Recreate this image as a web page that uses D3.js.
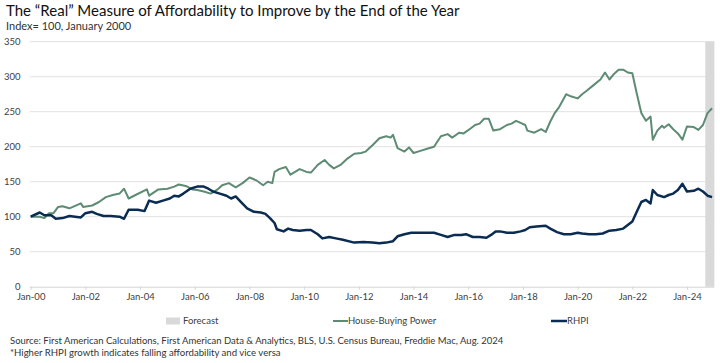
<!DOCTYPE html>
<html>
<head>
<meta charset="utf-8">
<script src="https://cdn.jsdelivr.net/npm/d3@7"></script>
<style>
  body { margin: 0; background: #fff; }
  text { font-family: Lato, "Open Sans", sans-serif; }
</style>
</head>
<body>
<div id="chart-area"></div>
<script>
// House-Buying Power vs RHPI, index Jan 2000 = 100

var hbpDates = ["2000-01","2000-05","2000-07","2000-09","2000-11","2001-01","2001-03","2001-06","2001-11","2001-12",
  "2002-04","2002-07","2002-10","2003-01","2003-04","2003-06","2003-08","2003-11","2004-04","2004-05",
  "2004-09","2005-01","2005-04","2005-06","2005-09","2005-12","2006-02","2006-05","2006-08","2006-11",
  "2007-01","2007-04","2007-07","2007-10","2008-01","2008-04","2008-07","2008-09","2008-11","2008-12",
  "2009-02","2009-05","2009-07","2009-09","2009-11","2010-02","2010-04","2010-07","2010-10","2010-12",
  "2011-02","2011-05","2011-08","2011-11","2012-02","2012-04","2012-07","2012-10","2013-01","2013-03",
  "2013-04","2013-06","2013-09","2013-11","2014-01","2014-04","2014-07","2014-10","2015-01","2015-04",
  "2015-06","2015-09","2015-11","2016-02","2016-04","2016-06","2016-08","2016-10","2016-12","2017-03",
  "2017-06","2017-08","2017-10","2017-12","2018-02","2018-03","2018-06","2018-09","2018-11","2019-01",
  "2019-03","2019-05","2019-08","2019-10","2020-01","2020-03","2020-05","2020-08","2020-11","2021-01",
  "2021-03","2021-05","2021-07","2021-09","2021-11","2022-01","2022-03","2022-05","2022-07","2022-09",
  "2022-10","2022-12","2023-02","2023-03","2023-05","2023-07","2023-09","2023-11","2024-01","2024-04",
  "2024-06","2024-08","2024-10","2024-12"];
var hbpValues = [100,100,98,105,105,114,115,112,119,114,
  116,121,128,131,133,140,126,131,139,130,
  139,140,143,146,144,139,138,136,133,139,
  145,148,142,148,156,152,145,150,148,164,
  168,171,160,164,168,164,163,174,181,174,
  169,174,183,190,191,193,202,212,215,213,
  217,198,193,199,191,194,197,200,215,218,
  213,220,219,226,231,233,240,240,223,225,
  231,233,237,234,231,223,220,225,221,236,
  248,257,275,272,269,275,280,288,296,306,
  296,304,310,310,306,305,276,248,237,243,
  210,223,230,227,232,225,219,210,229,228,
  224,231,248,255];

var rhpiDates = ["2000-01","2000-05","2000-07","2000-10","2000-12","2001-03","2001-06","2001-11","2002-01","2002-04",
  "2002-06","2002-09","2002-12","2003-04","2003-06","2003-08","2003-12","2004-03","2004-05","2004-08",
  "2004-11","2005-02","2005-04","2005-06","2005-08","2005-11","2006-02","2006-05","2006-07","2006-09",
  "2006-12","2007-03","2007-05","2007-07","2007-09","2007-12","2008-03","2008-06","2008-08","2008-10",
  "2008-12","2009-01","2009-04","2009-06","2009-08","2009-11","2010-02","2010-04","2010-07","2010-09",
  "2010-12","2011-03","2011-06","2011-11","2012-03","2012-07","2012-10","2013-01","2013-04","2013-06",
  "2013-09","2013-12","2014-04","2014-07","2014-10","2015-01","2015-04","2015-07","2015-10","2015-12",
  "2016-03","2016-06","2016-09","2016-11","2017-01","2017-03","2017-06","2017-09","2017-12","2018-02",
  "2018-04","2018-07","2018-11","2019-01","2019-04","2019-07","2019-10","2020-01","2020-03","2020-06",
  "2020-09","2020-12","2021-03","2021-06","2021-09","2021-11","2022-01","2022-03","2022-05","2022-07",
  "2022-09","2022-10","2022-12","2023-03","2023-05","2023-07","2023-09","2023-11","2024-01","2024-04",
  "2024-06","2024-08","2024-10","2024-12"];
var rhpiValues = [100,106,102,102,97,98,101,99,105,107,
  104,101,101,100,97,110,110,108,123,120,
  123,126,130,129,133,140,143,143,140,136,
  133,130,126,129,122,112,107,106,104,98,
  91,82,79,83,81,80,81,81,75,69,
  71,69,67,63,64,63,62,63,65,72,
  75,77,77,77,77,74,71,74,74,75,
  71,71,70,74,79,79,77,77,79,81,
  85,86,87,83,78,75,75,77,76,75,
  75,76,80,81,83,88,93,107,121,124,
  119,138,131,128,131,133,138,147,136,137,
  140,136,130,128];

var yTicks = [0, 50, 100, 150, 200, 250, 300, 350];
var xTickYears = [2000, 2002, 2004, 2006, 2008, 2010, 2012, 2014, 2016, 2018, 2020, 2022, 2024];
var forecastRange = ["2024-09", "2025-01"];

var parseMonth = d3.timeParse("%Y-%m");

var hbp = hbpDates.map(function(d, i) { return {date: parseMonth(d), value: hbpValues[i]}; });
var rhpi = rhpiDates.map(function(d, i) { return {date: parseMonth(d), value: rhpiValues[i]}; });

var width = 720, height = 363;

var svg = d3.select("#chart-area").append("svg")
    .attr("width", width)
    .attr("height", height);

var x = d3.scaleTime()
    .domain([new Date(2000, 0, 1), new Date(2025, 0, 1)])
    .range([30.7, 714.4]);

var y = d3.scaleLinear()
    .domain([0, 350])
    .range([286.7, 41.7]);

// title
svg.append("text")
    .attr("x", 6)
    .attr("y", 16)
    .attr("font-size", 15)
    .attr("fill", "#111")
    .text("The \u201CReal\u201D Measure of Affordability to Improve by the End of the Year");

svg.append("text")
    .attr("x", 6)
    .attr("y", 30)
    .attr("font-size", 11)
    .attr("fill", "#333")
    .text("Index= 100, January 2000");

// gridlines
svg.append("g")
    .selectAll("line")
    .data(yTicks.slice(1))
    .enter().append("line")
    .attr("x1", x.range()[0] - 1)
    .attr("x2", x.range()[1])
    .attr("y1", function(d) { return y(d); })
    .attr("y2", function(d) { return y(d); })
    .attr("stroke", "#e2e2e2")
    .attr("stroke-width", 1);

// y labels
svg.append("g")
    .selectAll("text")
    .data(yTicks)
    .enter().append("text")
    .attr("x", 20.5)
    .attr("y", function(d) { return y(d) + 3.5; })
    .attr("text-anchor", "end")
    .attr("font-size", 9.5)
    .attr("fill", "#404040")
    .text(function(d) { return d; });

// forecast band
svg.append("rect")
    .attr("x", x(parseMonth(forecastRange[0])))
    .attr("y", y(350))
    .attr("width", x(parseMonth(forecastRange[1])) - x(parseMonth(forecastRange[0])))
    .attr("height", y(0) - y(350))
    .attr("fill", "#d9d9d9");

// x axis
var xAxis = d3.axisBottom(x)
    .tickValues(xTickYears.map(function(yr) { return new Date(yr, 0, 1); }))
    .tickFormat(d3.timeFormat("Jan-%y"))
    .tickSize(3)
    .tickPadding(4);

var gx = svg.append("g")
    .attr("transform", "translate(0," + y(0) + ")")
    .call(xAxis);
gx.select(".domain").attr("stroke", "#d4d4d4").attr("d", "M" + (x.range()[0] - 1) + ",0.5H" + x.range()[1]);
gx.selectAll(".tick line").attr("stroke", "#d4d4d4");
gx.selectAll(".tick text")
    .attr("font-family", "Lato, 'Open Sans', sans-serif")
    .attr("font-size", 9.5)
    .attr("fill", "#404040");

// lines
var line = d3.line()
    .x(function(d) { return x(d.date); })
    .y(function(d) { return y(d.value); });

svg.append("path")
    .datum(hbp)
    .attr("fill", "none")
    .attr("stroke", "#5e8b74")
    .attr("stroke-width", 2)
    .attr("stroke-linejoin", "round")
    .attr("d", line);

svg.append("path")
    .datum(rhpi)
    .attr("fill", "none")
    .attr("stroke", "#0b2c52")
    .attr("stroke-width", 2.5)
    .attr("stroke-linejoin", "round")
    .attr("d", line);

// legend
var legend = svg.append("g").attr("font-size", 9.5).attr("fill", "#404040");

legend.append("rect")
    .attr("x", 166).attr("y", 317.5).attr("width", 14).attr("height", 7)
    .attr("fill", "#d9d9d9");
legend.append("text").attr("x", 183).attr("y", 324).text("Forecast");

legend.append("line")
    .attr("x1", 333).attr("x2", 348).attr("y1", 321).attr("y2", 321)
    .attr("stroke", "#5e8b74").attr("stroke-width", 2);
legend.append("text").attr("x", 348).attr("y", 324).text("House-Buying Power");

legend.append("line")
    .attr("x1", 551).attr("x2", 567).attr("y1", 321).attr("y2", 321)
    .attr("stroke", "#0b2c52").attr("stroke-width", 2.5);
legend.append("text").attr("x", 567).attr("y", 324).text("RHPI");

// notes
svg.append("text")
    .attr("x", 10).attr("y", 344)
    .attr("font-size", 9.5)
    .attr("fill", "#333")
    .text("Source: First American Calculations, First American Data & Analytics, BLS, U.S. Census Bureau, Freddie Mac, Aug. 2024");

svg.append("text")
    .attr("x", 10).attr("y", 356)
    .attr("font-size", 9.6)
    .attr("fill", "#333")
    .text("*Higher RHPI growth indicates falling affordability and vice versa");
</script>
</body>
</html>
